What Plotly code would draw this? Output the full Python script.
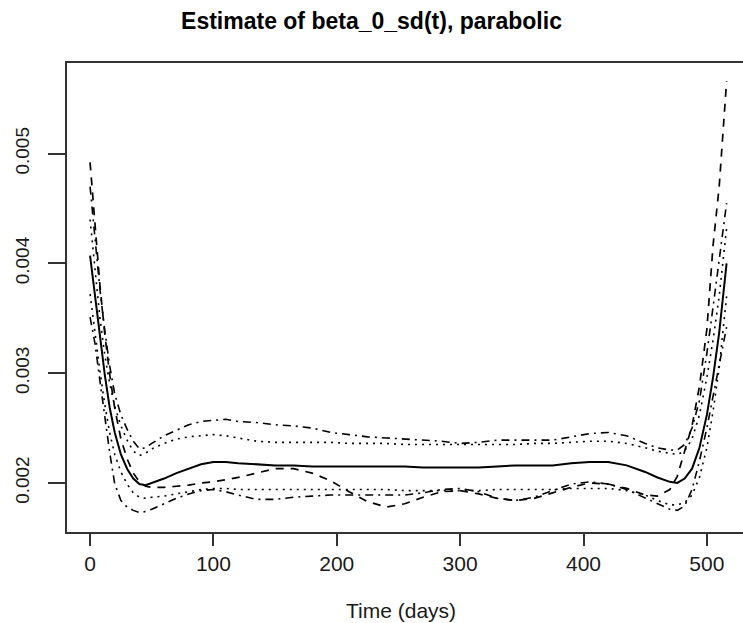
import plotly.graph_objects as go

# time grid (days)
t = [0, 4, 8, 12, 16, 20, 25, 30, 35, 40, 45, 50, 60, 70, 80, 90, 100, 110, 120, 135,
     150, 165, 180, 195, 210, 225, 240, 255, 270, 285, 300, 315, 330, 345, 360, 375,
     390, 405, 420, 435, 450, 460, 470, 476, 482, 488, 494, 500, 505, 510, 516]

estimate = [0.00407, 0.00370, 0.00333, 0.00298, 0.00268, 0.00246, 0.00226, 0.00213, 0.00204, 0.00199,
            0.00198, 0.00200, 0.00204, 0.00209, 0.00213, 0.00217, 0.00219, 0.00219, 0.00218, 0.00217,
            0.00216, 0.00216, 0.00215, 0.00215, 0.00215, 0.00215, 0.00215, 0.00215, 0.00214, 0.00214,
            0.00214, 0.00214, 0.00215, 0.00216, 0.00216, 0.00216, 0.00218, 0.00219, 0.00219, 0.00216,
            0.00210, 0.00205, 0.00201, 0.00200, 0.00204, 0.00213, 0.00232, 0.00262, 0.00296, 0.00337, 0.00400]

dashed_curve = [0.00492, 0.00432, 0.00380, 0.00335, 0.00298, 0.00268, 0.00240, 0.00222, 0.00209, 0.00201,
                0.00197, 0.00196, 0.00196, 0.00197, 0.00198, 0.00200, 0.00201, 0.00203, 0.00205, 0.00209,
                0.00213, 0.00213, 0.00209, 0.00202, 0.00192, 0.00183, 0.00178, 0.00181, 0.00187, 0.00192,
                0.00193, 0.00190, 0.00186, 0.00184, 0.00186, 0.00191, 0.00196, 0.00200, 0.00199, 0.00195,
                0.00189, 0.00188, 0.00194, 0.00206, 0.00228, 0.00252, 0.00288, 0.00340, 0.00416, 0.00470, 0.00566]

dotted_upper = [0.00440, 0.00392, 0.00350, 0.00316, 0.00290, 0.00270, 0.00252, 0.00239, 0.00229, 0.00225,
                0.00227, 0.00231, 0.00236, 0.00240, 0.00242, 0.00243, 0.00244, 0.00243, 0.00241, 0.00238,
                0.00237, 0.00237, 0.00237, 0.00237, 0.00236, 0.00236, 0.00236, 0.00235, 0.00235, 0.00235,
                0.00235, 0.00235, 0.00235, 0.00235, 0.00236, 0.00236, 0.00237, 0.00238, 0.00238, 0.00236,
                0.00232, 0.00229, 0.00227, 0.00226, 0.00229, 0.00240, 0.00262, 0.00296, 0.00330, 0.00370, 0.00432]

dotdash_upper = [0.00470, 0.00420, 0.00376, 0.00338, 0.00306, 0.00281, 0.00262, 0.00249, 0.00238, 0.00231,
                 0.00232, 0.00236, 0.00243, 0.00248, 0.00253, 0.00256, 0.00257, 0.00258, 0.00256, 0.00255,
                 0.00253, 0.00252, 0.00250, 0.00246, 0.00244, 0.00242, 0.00241, 0.00240, 0.00239, 0.00238,
                 0.00236, 0.00237, 0.00239, 0.00239, 0.00239, 0.00239, 0.00242, 0.00245, 0.00246, 0.00243,
                 0.00236, 0.00232, 0.00230, 0.00230, 0.00235, 0.00250, 0.00275, 0.00318, 0.00360, 0.00405, 0.00455]

dotted_lower = [0.00372, 0.00336, 0.00302, 0.00271, 0.00245, 0.00226, 0.00210, 0.00199, 0.00191, 0.00187,
                0.00186, 0.00187, 0.00188, 0.00190, 0.00192, 0.00194, 0.00195, 0.00195, 0.00194, 0.00194,
                0.00194, 0.00194, 0.00194, 0.00194, 0.00194, 0.00194, 0.00194, 0.00193, 0.00193, 0.00193,
                0.00193, 0.00193, 0.00194, 0.00194, 0.00194, 0.00194, 0.00195, 0.00195, 0.00195, 0.00193,
                0.00189, 0.00184, 0.00180, 0.00180, 0.00182, 0.00189, 0.00205, 0.00232, 0.00265, 0.00305, 0.00370]

dotdash_lower = [0.00351, 0.00327, 0.00293, 0.00258, 0.00227, 0.00199, 0.00184, 0.00178, 0.00175, 0.00173,
                 0.00174, 0.00176, 0.00181, 0.00186, 0.00190, 0.00193, 0.00194, 0.00192, 0.00189, 0.00185,
                 0.00185, 0.00187, 0.00188, 0.00189, 0.00189, 0.00189, 0.00189, 0.00189, 0.00191, 0.00194,
                 0.00195, 0.00192, 0.00186, 0.00184, 0.00187, 0.00193, 0.00199, 0.00201, 0.00199, 0.00194,
                 0.00186, 0.00181, 0.00176, 0.00175, 0.00179, 0.00194, 0.00220, 0.00250, 0.00278, 0.00308, 0.00342]

x_ticks = [0, 100, 200, 300, 400, 500]
y_ticks = [0.002, 0.003, 0.004, 0.005]
y_tick_labels = ["0.002", "0.003", "0.004", "0.005"]

title_text = "Estimate of beta_0_sd(t), parabolic"
x_title = "Time (days)"

FONT = "Liberation Sans, Arial, sans-serif"
INK = "#1a1a1a"

series = [
    (dotdash_upper, "8px,5px,2px,5px", 1.6),
    (dotted_upper, "2px,5px", 1.6),
    (dotdash_lower, "8px,5px,2px,5px", 1.6),
    (dotted_lower, "2px,5px", 1.6),
    (dashed_curve, "8px,7px", 1.7),
    (estimate, "solid", 2.0),
]

fig = go.Figure()
for ys, dash, w in series:
    fig.add_trace(go.Scatter(x=t, y=ys, mode="lines",
                             line=dict(color="black", width=w, dash=dash),
                             showlegend=False, hoverinfo="skip"))

fig.update_layout(
    width=743, height=623,
    margin=dict(l=67, r=0, t=63, b=91),
    paper_bgcolor="white", plot_bgcolor="white",
    title=dict(text="<b>" + title_text + "</b>", x=0.5, xref="container", xanchor="center",
               y=1 - 21 / 623, yref="container", yanchor="middle",
               font=dict(family=FONT, size=23, color="black")),
    xaxis=dict(range=[-18.7, 529.3], tickvals=x_ticks, ticks="outside", ticklen=12,
               tickwidth=1.5, tickcolor="#333", showline=True, linecolor="#333", linewidth=2,
               mirror=True, showgrid=False, zeroline=False,
               tickfont=dict(family=FONT, size=21, color=INK), ticklabelstandoff=0),
    yaxis=dict(range=[0.001553, 0.005826], tickvals=y_ticks, ticktext=y_tick_labels,
               ticks="outside", ticklen=17, tickwidth=1.5, tickcolor="#333",
               showline=True, linecolor="#333", linewidth=2, mirror=False,
               showgrid=False, zeroline=False, tickangle=-90,
               tickfont=dict(family=FONT, size=19, color=INK), ticklabelstandoff=11),
    annotations=[dict(text=x_title, xref="paper", yref="paper",
                      x=(400.5 - 67) / 676, y=(532 - 610) / 469,
                      xanchor="center", yanchor="middle", showarrow=False,
                      font=dict(family=FONT, size=21, color=INK))],
)

fig.write_html("out.html")
